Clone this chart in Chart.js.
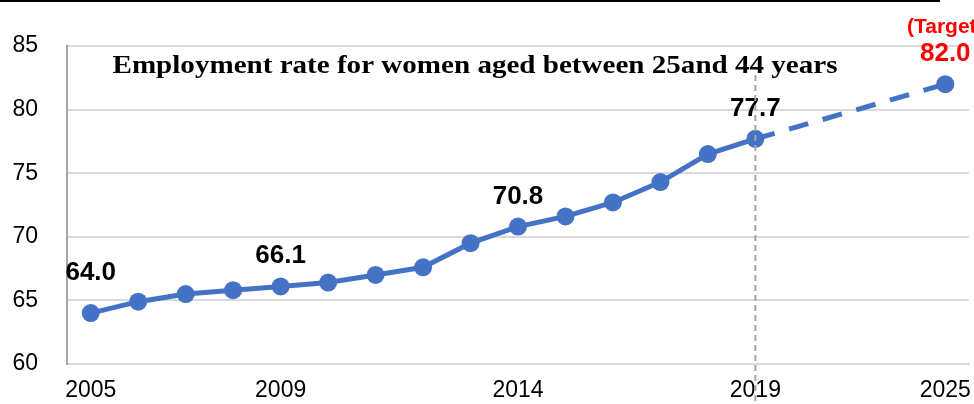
<!DOCTYPE html>
<html lang="en">
<head>
  <meta charset="UTF-8" />
  <title>Employment rate for women aged 25-44</title>
  <script src="https://cdn.jsdelivr.net/npm/chart.js"></script>
  <style>
    html, body { margin: 0; padding: 0; background: #fff; }
    #wrap { width: 974px; height: 404px; position: relative; }
  </style>
</head>
<body>
  <div id="wrap"><canvas id="rateChart"></canvas></div>

  <script>
    // categories (three empty slots between 2019 and the 2025 target)
    const years = ['2005', '2006', '2007', '2008', '2009', '2010', '2011', '2012', '2013', '2014',
                   '2015', '2016', '2017', '2018', '2019', '', '', '', '2025'];
    const rates = [64.0, 64.9, 65.5, 65.8, 66.1, 66.4, 67.0, 67.6, 69.5, 70.8,
                   71.6, 72.7, 74.3, 76.5, 77.7, null, null, null, 82.0];
    const shownYears = ['2005', '2009', '2014', '2019', '2025'];
    const labelledYears = ['2005', '2009', '2014', '2019', '2025'];
    const targetYear = '2025';
    const markerYear = '2019';
    const chartTitle = 'Employment rate for women aged between 25and 44 years';

    const blue = '#4472C4';

    // title, top rule, value labels and the 2019 marker line
    const decorations = {
      id: 'decorations',
      beforeDraw(chart) {
        const ctx = chart.ctx;
        ctx.save();
        ctx.fillStyle = '#000';
        ctx.fillRect(0, 0, 940, 2);
        ctx.restore();
      },
      afterDatasetsDraw(chart) {
        const ctx = chart.ctx;
        const meta = chart.getDatasetMeta(0);
        ctx.save();

        // title: bold serif, stretched a little to the reference width
        ctx.font = 'bold 26px "Liberation Serif", "Times New Roman", serif';
        ctx.fillStyle = '#000';
        ctx.textAlign = 'center';
        ctx.textBaseline = 'alphabetic';
        const tw = ctx.measureText(chartTitle).width;
        ctx.save();
        ctx.translate(475, 73);
        ctx.scale(725 / tw, 1);
        ctx.fillText(chartTitle, 0, 0);
        ctx.restore();

        labelledYears.forEach(y => {
          const i = years.indexOf(y);
          const pt = meta.data[i];
          const isTarget = y === targetYear;
          const lift = i === 0 ? 33 : 23;
          ctx.fillStyle = isTarget ? '#ff0000' : '#000';
          ctx.font = 'bold 26px "Liberation Sans", Arial, sans-serif';
          ctx.fillText(rates[i].toFixed(1), pt.x, pt.y - lift);
          if (isTarget) {
            ctx.font = 'bold 21px "Liberation Sans", Arial, sans-serif';
            ctx.fillText('(Target)', pt.x, pt.y - lift - 28);
          }
        });

        const mx = chart.scales.x.getPixelForValue(years.indexOf(markerYear));
        ctx.strokeStyle = '#a6a6a6';
        ctx.lineWidth = 2;
        ctx.setLineDash([6, 4]);
        ctx.beginPath();
        ctx.moveTo(mx, 75);
        ctx.lineTo(mx, 402);
        ctx.stroke();
        ctx.restore();
      }
    };

    new Chart(document.getElementById('rateChart'), {
      type: 'line',
      data: {
        labels: years,
        datasets: [{
          data: rates,
          borderColor: blue,
          backgroundColor: blue,
          borderWidth: 5,
          pointRadius: 9,
          pointHoverRadius: 9,
          pointBackgroundColor: blue,
          pointBorderWidth: 0,
          spanGaps: true,
          tension: 0,
          clip: false,
          segment: {
            borderDash: c => c.p1DataIndex === years.indexOf(targetYear) ? [20, 15] : undefined
          }
        }]
      },
      options: {
        responsive: true,
        maintainAspectRatio: false,
        animation: false,
        layout: { autoPadding: false, padding: { top: 46, right: 5, left: 0, bottom: 0 } },
        plugins: {
          legend: { display: false },
          tooltip: { enabled: false }
        },
        scales: {
          x: {
            offset: true,
            grid: { display: false, drawTicks: false },
            border: { color: '#d9d9d9', width: 2 },
            ticks: {
              autoSkip: false,
              maxRotation: 0,
              padding: 13,
              color: '#000',
              font: { family: '"Liberation Sans", Arial, sans-serif', size: 23 },
              callback: function (v) {
                const l = this.getLabelForValue(v);
                return shownYears.includes(l) ? l : '';
              }
            },
            afterFit: s => { s.height = 40; s.paddingLeft = 0; s.paddingRight = 0; }
          },
          y: {
            min: 60,
            max: 85,
            grid: { color: '#d9d9d9', lineWidth: 2, drawTicks: false },
            border: { color: '#a6a6a6', width: 2 },
            ticks: {
              stepSize: 5,
              padding: 29,
              color: '#000',
              font: { family: '"Liberation Sans", Arial, sans-serif', size: 23 }
            },
            afterFit: s => { s.width = 67; s.paddingTop = 0; s.paddingBottom = 0; }
          }
        }
      },
      plugins: [decorations]
    });
  </script>
</body>
</html>
